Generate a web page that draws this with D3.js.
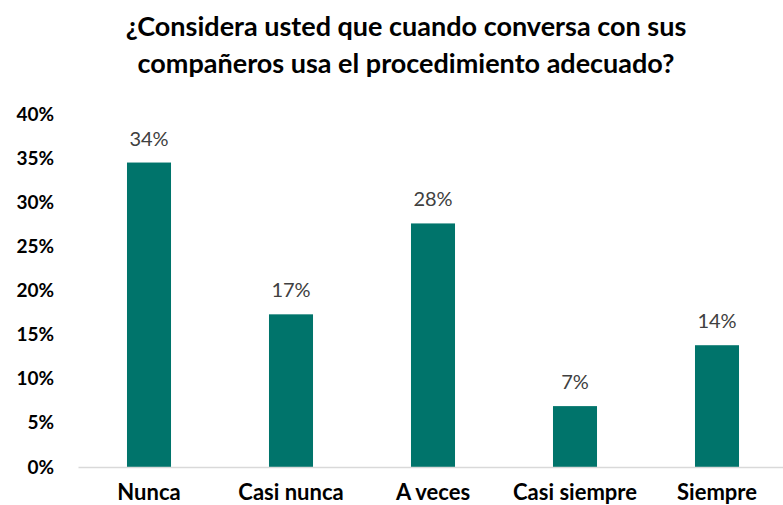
<!DOCTYPE html>
<html>
<head>
<meta charset="utf-8">
<script src="https://cdn.jsdelivr.net/npm/d3@7"></script>
<style>
  body { margin: 0; background: #fff; }
  svg { display: block; }
</style>
</head>
<body>
<script>
const categories = ["Nunca", "Casi nunca", "A veces", "Casi siempre", "Siempre"];
const values = [0.345, 0.173, 0.276, 0.069, 0.138];
const valueLabels = ["34%", "17%", "28%", "7%", "14%"];
const yTicks = [0, 0.05, 0.10, 0.15, 0.20, 0.25, 0.30, 0.35, 0.40];
const titleLines = ["¿Considera usted que cuando conversa con sus", "compañeros usa el procedimiento adecuado?"];

const width = 783, height = 505;
const font = "Lato, 'Open Sans', sans-serif";

const svg = d3.select("body").append("svg")
    .attr("width", width)
    .attr("height", height);

// title
svg.append("g").selectAll("text")
    .data(titleLines)
    .enter().append("text")
    .attr("x", 406)
    .attr("y", (d, i) => 36 + i * 37)
    .attr("text-anchor", "middle")
    .style("font-family", font)
    .style("font-weight", "bold")
    .style("font-size", "27px")
    .style("fill", "#000")
    .text(d => d);

const x = d3.scaleBand()
    .domain(categories)
    .range([78, 788])
    .paddingInner(0.69)
    .paddingOuter(0.345);

const y = d3.scaleLinear()
    .domain([0, 0.4])
    .range([467, 114]);

// y axis labels, no line
const yAxis = svg.append("g")
    .attr("transform", "translate(58,0)")
    .call(d3.axisLeft(y).tickValues(yTicks).tickFormat(d3.format(".0%")).tickSize(0).tickPadding(4));
yAxis.select(".domain").remove();
yAxis.selectAll("text")
    .style("font-family", font)
    .style("font-weight", "bold")
    .style("font-size", "19px")
    .style("fill", "#000");

// bars
svg.append("g").selectAll("rect")
    .data(values)
    .enter().append("rect")
    .attr("x", (d, i) => x(categories[i]))
    .attr("y", d => y(d))
    .attr("width", x.bandwidth())
    .attr("height", d => y(0) - y(d))
    .style("fill", "#00746B");

// baseline + category labels
const xAxis = svg.append("g")
    .attr("transform", "translate(0," + y(0) + ")")
    .call(d3.axisBottom(x).tickSize(0).tickPadding(17));
xAxis.select(".domain")
    .attr("stroke", "#d9d9d9")
    .attr("stroke-width", 1.5);
xAxis.selectAll("text")
    .style("font-family", font)
    .style("font-weight", "bold")
    .style("font-size", "22px")
    .style("fill", "#000");

// value labels
svg.append("g").selectAll("text")
    .data(values)
    .enter().append("text")
    .attr("x", (d, i) => x(categories[i]) + x.bandwidth() / 2)
    .attr("y", d => y(d) - 17)
    .attr("text-anchor", "middle")
    .style("font-family", font)
    .style("font-size", "20px")
    .style("fill", "#404040")
    .text((d, i) => valueLabels[i]);
</script>
</body>
</html>
